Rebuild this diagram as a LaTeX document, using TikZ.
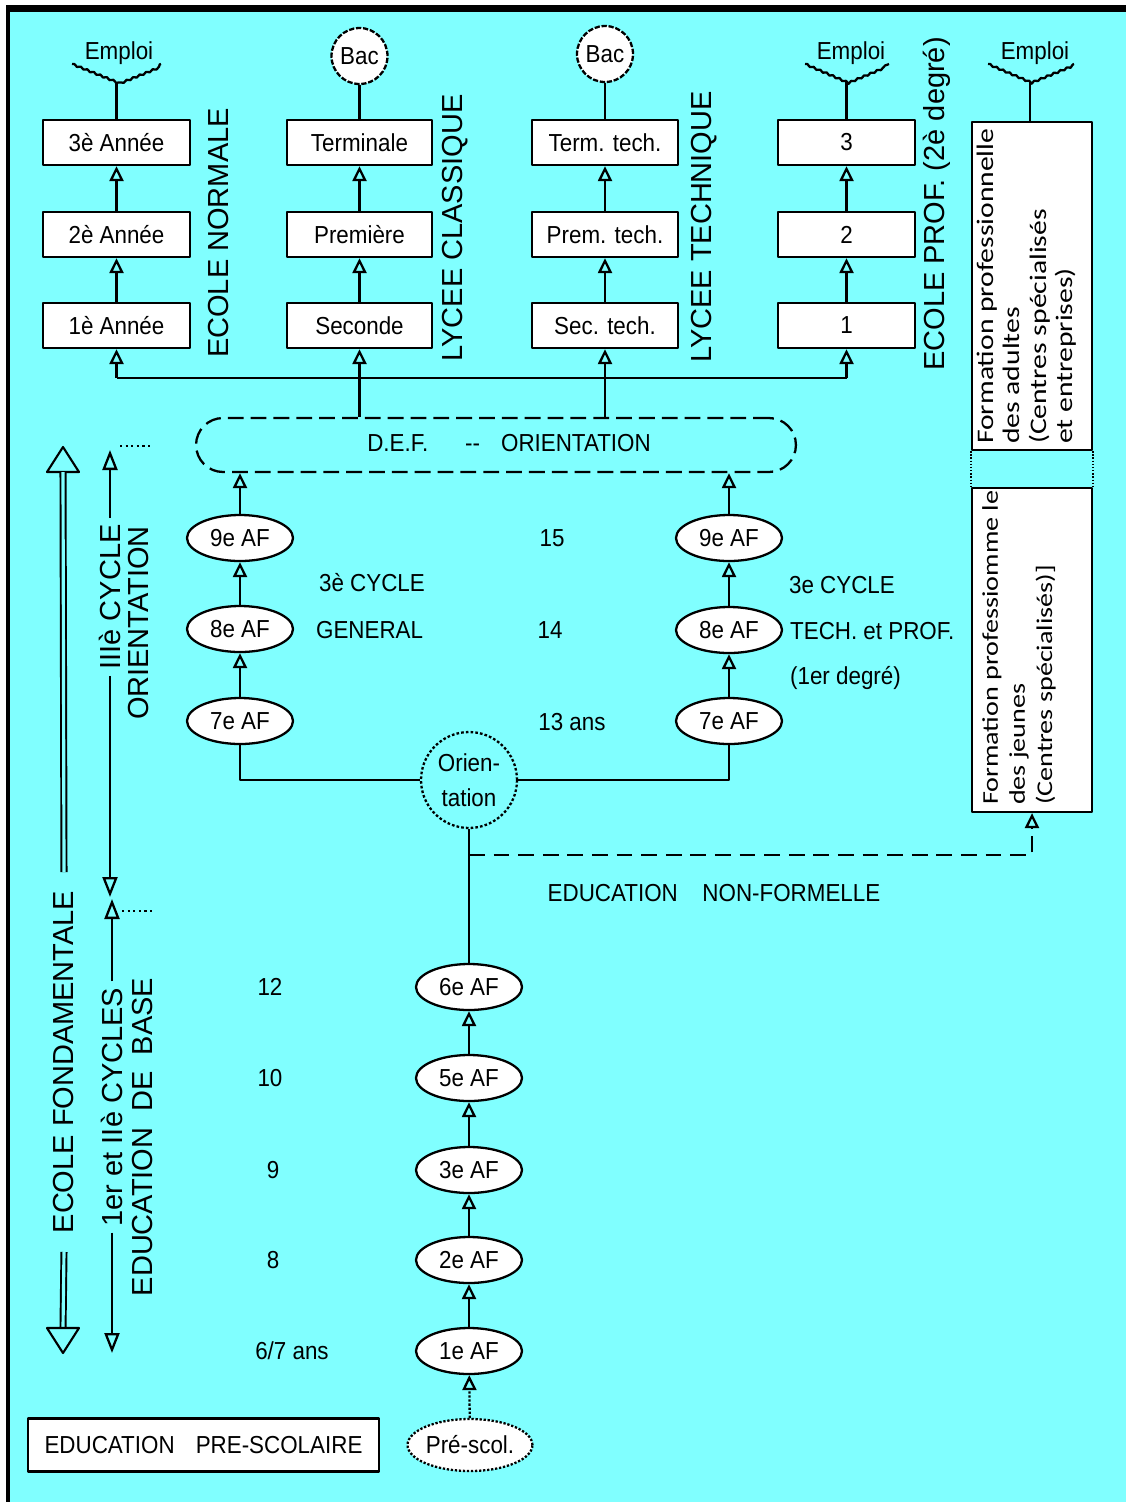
\documentclass[tikz,border=0pt]{standalone}
\usepackage{fontspec}
\setmainfont{Liberation Sans}
\newfontfamily\genv{Liberation Sans}[FakeStretch=0.91]
\newfontfamily\calib{Carlito}[FakeStretch=1.25]
\usetikzlibrary{arrows.meta,shapes.geometric,decorations.pathmorphing}
\definecolor{bgcyan}{RGB}{128,255,255}
\begin{document}
\begin{tikzpicture}[x=0.02cm, y=-0.02cm, line width=1.3pt, line join=round,
  sm/.style={font=\genv\fontsize{14}{16}\selectfont},
  lbl/.style={sm, inner sep=0pt},
  boxn/.style={draw, fill=white, sm, minimum width=#1*0.02cm, minimum height=0.9cm, inner sep=0pt},
  afn/.style={draw, fill=white, ellipse, sm, minimum width=2.12cm, minimum height=0.92cm, inner sep=0pt},
  bacn/.style={draw, fill=white, circle, dash pattern=on 3pt off 1pt, sm, minimum size=1.12cm, inner sep=0pt},
  vlbl/.style={rotate=90, font=\fontsize{16.5}{19}\selectfont, inner sep=0pt},
  vcyc/.style={rotate=90, font=\fontsize{16.5}{19}\selectfont, inner xsep=3pt, inner ysep=0pt},
  tri/.style={-{Triangle[open, length=0.3cm, width=0.28cm]}},
  tritwo/.style={-{Triangle[open, length=0.4cm, width=0.3cm]}},
  wav/.style={decorate, decoration={snake, amplitude=0.5pt, segment length=4pt}},
  ftxt/.style={rotate=90, anchor=north west, align=left, font=\calib\fontsize{13.5}{15}\selectfont, inner sep=0pt},
  ftxtb/.style={rotate=90, anchor=north west, align=left, font=\calib\fontsize{12.8}{15.5}\selectfont, inner sep=0pt},
]
\useasboundingbox (0,0) rectangle (1126,1502);
\fill[white] (0,0) rectangle (1126,1502);
\fill[black] (6,5) rectangle (1126,12);
\fill[black] (6,5) rectangle (10,1502);
\fill[bgcyan] (10,12) rectangle (1126,1502);

% ---------- column 1 : Ecole normale
\node[boxn=147] (n3) at (116.5,142.5) {3è Année};
\node[boxn=147] (n2) at (116.5,234.5) {2è Année};
\node[boxn=147] (n1) at (116.5,325.5) {1è Année};
\node[lbl] (em1) at (119,53) {Emploi};
\coordinate (f1) at (116.5,82);
\draw[wav] (72,64) -- (f1) -- (161,64);
\draw (f1) -- (n3);
\draw[tri] (n1) -- (n2);
\draw[tri] (n2) -- (n3);
\node[vlbl] (vl1) at (219,233) {ECOLE NORMALE};

% ---------- column 2 : Lycee classique
\node[boxn=145] (cl3) at (359.5,142.5) {Terminale};
\node[boxn=145] (cl2) at (359.5,234.5) {Première};
\node[boxn=145] (cl1) at (359.5,325.5) {Seconde};
\node[bacn] (bac1) at (359.5,56) {Bac};
\draw (bac1) -- (cl3);
\draw[tri] (cl1) -- (cl2);
\draw[tri] (cl2) -- (cl3);
\node[vlbl] (vl2) at (455,228) {LYCEE CLASSIQUE};

% ---------- column 3 : Lycee technique
\node[boxn=146] (lt3) at (605,142.5) {Term. tech.};
\node[boxn=146] (lt2) at (605,234.5) {Prem. tech.};
\node[boxn=146] (lt1) at (605,325.5) {Sec. tech.};
\node[bacn] (bac2) at (605,54) {Bac};
\draw (bac2) -- (lt3);
\draw[tri] (lt1) -- (lt2);
\draw[tri] (lt2) -- (lt3);
\node[vlbl] (vl3) at (704,227) {LYCEE TECHNIQUE};

% ---------- column 4 : Ecole prof
\node[boxn=137] (p3) at (846.5,142.5) {3};
\node[boxn=137] (p2) at (846.5,234.5) {2};
\node[boxn=137] (p1) at (846.5,325.5) {1};
\node[lbl] (em4) at (851,53) {Emploi};
\coordinate (f4) at (846.5,82);
\draw[wav] (805,64) -- (f4) -- (889,64);
\draw (f4) -- (p3);
\draw[tri] (p1) -- (p2);
\draw[tri] (p2) -- (p3);
\node[vlbl] (vl4) at (937,204) {ECOLE PROF. (2è degré)};

% ---------- column 5 : formation professionnelle
\node[draw, fill=white, minimum width=2.4cm, minimum height=6.56cm, inner sep=0pt] (adu) at (1032,286) {};
\node[draw, fill=white, minimum width=2.4cm, minimum height=6.48cm, inner sep=0pt] (jeu) at (1032,650) {};
\draw[densely dotted, line width=0.8pt] (adu.south west) -- (jeu.north west);
\draw[densely dotted, line width=0.8pt] (adu.south east) -- (jeu.north east);
\node[ftxt] (adt) at (976,445) {Formation professionnelle\\des adultes\\(Centres spécialisés\\et entreprises)};
\node[ftxtb] (jet) at (981,806) {Formation professiomme le\\des jeunes\\(Centres spécialisés)]};
\node[lbl] (em5) at (1035,53) {Emploi};
\coordinate (f5) at (1030,82);
\draw[wav] (988,64) -- (f5) -- (1074,64);
\draw (f5) -- (f5 |- adu.north);

% ---------- D.E.F. orientation
\node[draw, dashed, dash pattern=on 9pt off 4pt, rounded corners=0.54cm, minimum width=12cm, minimum height=1.08cm, inner sep=0pt] (def) at (496,445) {};
\node[lbl] (deft) at (509,443) {D.E.F.\hspace{21pt}-{}-\hspace{12pt}ORIENTATION};
\coordinate (hy) at (0,378);
\draw (n1 |- hy) -- (p1 |- hy);
\draw[tri] (n1 |- hy) -- (n1);
\draw[tri] (p1 |- hy) -- (p1);
\draw[tri] (def.north -| cl1) -- (cl1);
\draw[tri] (def.north -| lt1) -- (lt1);

% ---------- 3e cycle
\node[afn] (l9) at (240,538) {9e AF};
\node[afn] (l8) at (240,629) {8e AF};
\node[afn] (l7) at (240,721) {7e AF};
\node[afn] (r9) at (729,538) {9e AF};
\node[afn] (r8) at (729,630) {8e AF};
\node[afn] (r7) at (729,721) {7e AF};
\draw[tri] (l7) -- (l8);
\draw[tri] (l8) -- (l9);
\draw[tri] (l9) -- (l9 |- def.south);
\draw[tri] (r7) -- (r8);
\draw[tri] (r8) -- (r9);
\draw[tri] (r9) -- (r9 |- def.south);
\node[lbl, anchor=west] (g1) at (318,583) {3è CYCLE};
\node[lbl, anchor=west] (g2) at (315,630) {GENERAL};
\node[lbl, anchor=west] (t1) at (788,585) {3e CYCLE};
\node[lbl, anchor=west] (t2) at (789,631) {TECH. et PROF.};
\node[lbl, anchor=west] (t3) at (789,678) {(1er degré)};
\node[lbl] (age15) at (552,538) {15};
\node[lbl] (age14) at (550,630) {14};
\node[lbl] (age13) at (572,722) {13 ans};

% ---------- orientation
\node[draw, circle, dash pattern=on 1.5pt off 1.2pt, minimum size=1.92cm, inner sep=0pt, align=center, font=\genv\fontsize{14}{20}\selectfont] (ori) at (469,780) {Orien-\\tation};
\draw (l7) |- (ori.west);
\draw (r7) |- (ori.east);

% ---------- cycles 1-2
\node[afn] (a6) at (469,987) {6e AF};
\node[afn] (a5) at (469,1078) {5e AF};
\node[afn] (a3) at (469,1170) {3e AF};
\node[afn] (a2) at (469,1260) {2e AF};
\node[afn] (a1) at (469,1351) {1e AF};
\node[draw, fill=white, ellipse, densely dotted, sm, minimum width=2.36cm, minimum height=1.04cm, inner sep=0pt] (pre) at (470,1445) {Pré-scol.};
\draw (ori) -- (a6);
\draw[tri] (a5) -- (a6);
\draw[tri] (a3) -- (a5);
\draw[tri] (a2) -- (a3);
\draw[tri] (a1) -- (a2);
\draw[tri, densely dotted] (pre) -- (a1);
\node[lbl] (age12) at (270,987) {12};
\node[lbl] (age10) at (270,1078) {10};
\node[lbl] (age9) at (273,1170) {9};
\node[lbl] (age8) at (273,1260) {8};
\node[lbl] (age6) at (292,1351) {6/7 ans};

% ---------- non formelle
\coordinate (d0) at (469,855);
\draw[tri, dash pattern=on 9pt off 5pt] (d0) -| (jeu.south);
\node[lbl] (enf) at (714,893) {EDUCATION\hspace{14pt}NON-FORMELLE};

% ---------- pre-scolaire
\node[draw, fill=white, sm, minimum width=7.02cm, minimum height=1.06cm, inner sep=0pt] (eps) at (203.5,1445) {EDUCATION\hspace{12pt}PRE-SCOLAIRE};

% ---------- left scale: ecole fondamentale
\node[rotate=90, font=\fontsize{16.5}{19}\selectfont, inner xsep=10pt, inner ysep=0pt] (ef) at (64,1062) {ECOLE FONDAMENTALE};
\draw[line width=1.2pt] (63,447) -- (79,472) -- (47,472) -- cycle;
\draw[double=bgcyan, double distance=1.8pt, line width=1.1pt] (63,472) -- (ef.east);
\draw[double=bgcyan, double distance=1.8pt, line width=1.1pt] (ef.west) -- (63,1328);
\draw[line width=1.2pt] (63,1353) -- (79,1328) -- (47,1328) -- cycle;

% ---------- IIIe cycle orientation
\node[vcyc] (cy3) at (110,597) {IIIè CYCLE};
\node[vlbl] (or3) at (139,623) {ORIENTATION};
\coordinate (top3) at (110,450);
\coordinate (bot3) at (110,897);
\draw[tritwo] (cy3.east) -- (top3);
\draw[tritwo] (cy3.west) -- (bot3);
\draw[dotted, line width=1.2pt] (120,446) -- (153,446);

% ---------- 1er et IIe cycles
\node[vcyc] (cy12) at (112,1107) {1er et IIè CYCLES};
\node[vlbl] (eb) at (143,1137) {EDUCATION\ \ DE\ \ BASE};
\coordinate (top12) at (112,899);
\coordinate (bot12) at (112,1353);
\draw[tritwo] (cy12.east) -- (top12);
\draw[tritwo] (cy12.west) -- (bot12);
\draw[dotted, line width=1.2pt] (122,911) -- (153,911);
\end{tikzpicture}
\end{document}
